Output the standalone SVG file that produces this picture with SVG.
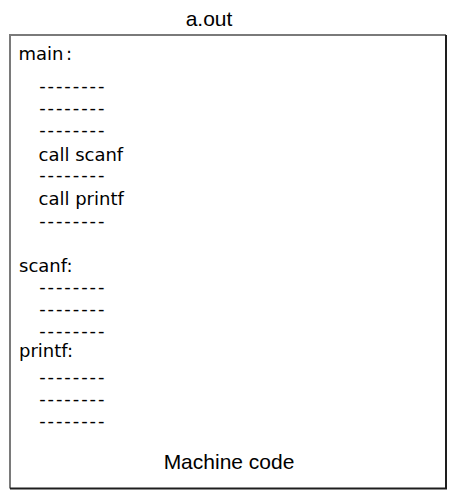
<svg xmlns="http://www.w3.org/2000/svg" width="451" height="491" viewBox="0 0 451 491">
  <style>
    .title { font-family: "Liberation Sans", Arial, sans-serif; font-size: 21px; fill: #000; text-anchor: middle; }
    .code { font-family: "DejaVu Sans", Verdana, sans-serif; font-size: 18px; fill: #000; }
    .dash { font-family: "DejaVu Sans", Verdana, sans-serif; font-size: 18px; fill: #000; letter-spacing: 1.9px; }
    .edge-light { stroke: #7a7a7a; stroke-width: 2; fill: none; }
    .edge-dark { stroke: #1e1e1e; stroke-width: 2; fill: none; }
  </style>

  <rect width="451" height="491" fill="#ffffff"/>

  <!-- file name above the box -->
  <g id="file-name">
    <text class="title" x="209" y="26">a.out</text>
  </g>

  <!-- executable box with bevelled edges -->
  <g id="executable">
    <rect x="10" y="35" width="436" height="453.5" fill="#ffffff"/>
    <path class="edge-light" d="M10 488.5 V35 H446"/>
    <path class="edge-dark" d="M446 35 V488.5 H10"/>

    <g id="main">
      <text class="code" x="18.5" y="59.5">main<tspan dx="2.5">:</tspan></text>
      <text class="dash" x="39.2" y="91.5">--------</text>
      <text class="dash" x="39.2" y="113.5">--------</text>
      <text class="dash" x="39.2" y="135.5">--------</text>
      <text class="code" x="38.5" y="160.5">call scanf</text>
      <text class="dash" x="39.2" y="180.5">--------</text>
      <text class="code" x="38.5" y="204.5">call printf</text>
      <text class="dash" x="39.2" y="226.5">--------</text>
    </g>

    <g id="scanf">
      <text class="code" x="19" y="272">scanf:</text>
      <text class="dash" x="39.2" y="292.5">--------</text>
      <text class="dash" x="39.2" y="314.5">--------</text>
      <text class="dash" x="39.2" y="336.5">--------</text>
    </g>

    <g id="printf">
      <text class="code" x="19" y="357">printf:</text>
      <text class="dash" x="39.2" y="382.5">--------</text>
      <text class="dash" x="39.2" y="404.5">--------</text>
      <text class="dash" x="39.2" y="426.5">--------</text>
    </g>

    <g id="caption">
      <text class="title" x="229" y="468.5">Machine code</text>
    </g>
  </g>
</svg>
